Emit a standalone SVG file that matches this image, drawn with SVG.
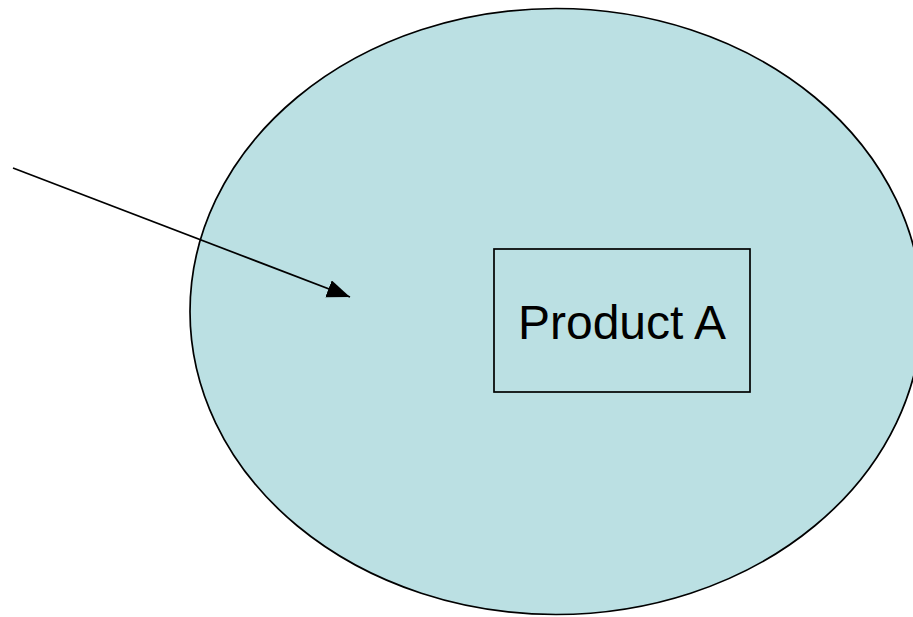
<svg xmlns="http://www.w3.org/2000/svg" width="913" height="617" viewBox="0 0 913 617">
<style>
.shape{fill:#bbe0e3;stroke:#000;stroke-width:1.7}
.box{fill:none;stroke:#000;stroke-width:1.7}
.label{font-family:"Liberation Sans",Arial,sans-serif;font-size:48px;fill:#000}
.conn{stroke:#000;stroke-width:1.7;fill:none}
</style>
<defs>
<marker id="arr" markerUnits="userSpaceOnUse" markerWidth="26" markerHeight="20" refX="23" refY="9" orient="auto">
<path d="M0,0 L23,9 L0,18 Z" fill="#000"/>
</marker>
</defs>
<rect width="913" height="617" fill="#fff"/>
<g id="market">
<ellipse class="shape" cx="556" cy="311.5" rx="366" ry="303"/>
</g>
<g id="productA">
<rect class="box" x="494" y="249" width="256" height="143"/>
<text class="label" x="622" y="339" text-anchor="middle">Product A</text>
</g>
<g id="connectors">
<line class="conn" x1="13" y1="168" x2="350" y2="297" marker-end="url(#arr)"/>
</g>
</svg>
